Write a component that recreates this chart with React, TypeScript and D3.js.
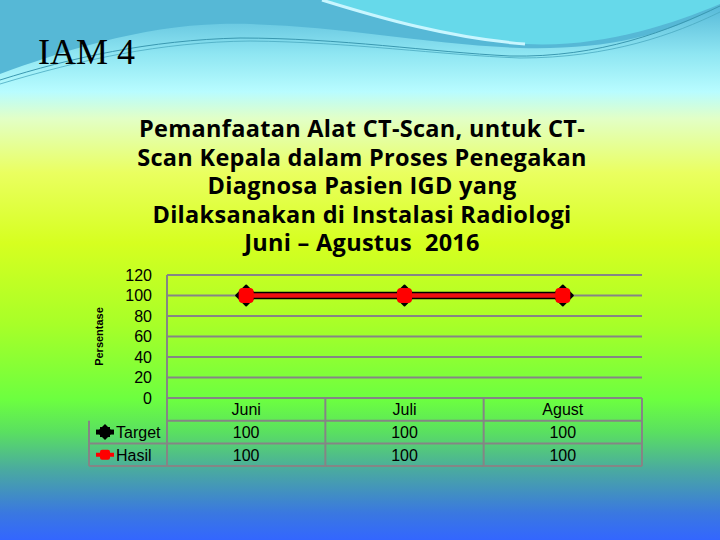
import React from "react";
import * as d3 from "d3";

const categories = ["Juni", "Juli", "Agust"];
const targetValues = [100, 100, 100];
const hasilValues = [100, 100, 100];
const yTicks = [0, 20, 40, 60, 80, 100, 120];
const titleLines = [
  "Pemanfaatan Alat CT-Scan, untuk CT-",
  "Scan Kepala dalam Proses Penegakan",
  "Diagnosa Pasien IGD yang",
  "Dilaksanakan di Instalasi Radiologi",
  "Juni \u2013 Agustus  2016",
];
const seriesNames = ["Target", "Hasil"];

export default function App() {
  const W = 720, H = 540;
  const left = 167, right = 642, top = 275, zeroY = 398;
  const rowH = 22.7;
  const legendLeft = 89;
  const x = d3.scaleBand<string>().domain(categories).range([left, right]).padding(0);
  const y = d3.scaleLinear().domain([0, 120]).range([zeroY, top]);
  const cx = (c: string) => (x(c) as number) + x.bandwidth() / 2;
  const line = d3.line<number>().x((_, i) => cx(categories[i])).y((v) => y(v));
  const grid = "#858585";
  const tableFont = "'Liberation Sans', Arial, sans-serif";
  const diamond = (px: number, py: number, r: number) =>
    `M${px - r},${py} L${px},${py - r} L${px + r},${py} L${px},${py + r} Z`;

  return (
    <svg width={W} height={H} style={{ position: "absolute", left: 0, top: 0 }}>
      <defs>
        <linearGradient id="bg" x1="0" y1="0" x2="0" y2="1">
          <stop offset="0" stopColor="#50b4d6" />
          <stop offset="0.1" stopColor="#8fe6f2" />
          <stop offset="0.17" stopColor="#b8fcff" />
          <stop offset="0.22" stopColor="#e2ffc6" />
          <stop offset="0.32" stopColor="#eaff60" />
          <stop offset="0.45" stopColor="#d6ff20" />
          <stop offset="0.6" stopColor="#a8ff28" />
          <stop offset="0.74" stopColor="#6cff40" />
          <stop offset="0.8" stopColor="#5ae060" />
          <stop offset="0.87" stopColor="#4aaaa0" />
          <stop offset="0.95" stopColor="#3a78e0" />
          <stop offset="1" stopColor="#3366ff" />
        </linearGradient>
      </defs>
      <rect x={0} y={0} width={W} height={H} fill="url(#bg)" />
      {/* decorative waves */}
      <path
        d="M0,0 L720,0 L720,6 C 660,38 600,50 520,48 C 420,44 320,22 220,24 C 140,26 60,52 0,74 Z"
        fill="#56b8d6"
      />
      <path
        d="M322,0 C 380,18 450,38 525,44 C 600,48 670,25 720,4 L720,0 Z"
        fill="#66d9ea"
      />
      <path d="M322,0 C 380,18 450,38 525,44" fill="none" stroke="#c8f6ff" strokeWidth={3} />
      <path
        d="M0,80 C 70,58 150,40 240,38 C 340,38 430,52 510,56 C 600,58 670,30 720,6"
        fill="none"
        stroke="#3a98b0"
        strokeWidth={1}
      />
      <path
        d="M0,84 C 80,60 160,42 250,41 C 350,42 440,55 520,58 C 610,58 675,34 720,12"
        fill="none"
        stroke="#4aaac0"
        strokeWidth={0.8}
      />

      <text x={38} y={64} fontFamily="'Liberation Serif', 'Times New Roman', serif" fontSize={36} fill="#000">
        IAM 4
      </text>

      {titleLines.map((t, i) => (
        <text
          key={i}
          x={362}
          y={137 + i * 28.5}
          textAnchor="middle"
          fontFamily="'Open Sans', Lato, sans-serif"
          fontWeight="bold"
          fontSize={23.5}
          letterSpacing={0.3}
          style={{ whiteSpace: "pre" }}
          fill="#000"
        >
          {t}
        </text>
      ))}

      {/* gridlines */}
      {yTicks.map((t) => (
        <line key={t} x1={left} x2={right} y1={y(t)} y2={y(t)} stroke={grid} strokeWidth={2} />
      ))}
      {yTicks.map((t) => (
        <text
          key={"l" + t}
          x={152}
          y={y(t)}
          dy="0.36em"
          textAnchor="end"
          fontFamily={tableFont}
          fontSize={16}
          fill="#000"
        >
          {t}
        </text>
      ))}
      <text
        transform={`translate(103,${(top + zeroY) / 2}) rotate(-90)`}
        textAnchor="middle"
        fontFamily={tableFont}
        fontWeight="bold"
        fontSize={11}
        fill="#000"
      >
        Persentase
      </text>

      {/* data table */}
      <line x1={left} x2={left} y1={top} y2={zeroY + 3 * rowH} stroke={grid} strokeWidth={2} />
      {[1, 2, 3].map((r) => (
        <line
          key={"r" + r}
          x1={r === 1 ? left : legendLeft}
          x2={right}
          y1={zeroY + r * rowH}
          y2={zeroY + r * rowH}
          stroke={grid}
          strokeWidth={2}
        />
      ))}
      <line x1={legendLeft} x2={legendLeft} y1={zeroY + rowH} y2={zeroY + 3 * rowH} stroke={grid} strokeWidth={2} />
      {categories.map((c) => (
        <line
          key={"v" + c}
          x1={(x(c) as number) + x.bandwidth()}
          x2={(x(c) as number) + x.bandwidth()}
          y1={zeroY}
          y2={zeroY + 3 * rowH}
          stroke={grid}
          strokeWidth={2}
        />
      ))}
      {categories.map((c, i) => (
        <g key={"t" + c} fontFamily={tableFont} fontSize={16} fill="#000" textAnchor="middle">
          <text x={cx(c)} y={zeroY + rowH / 2} dy="0.36em">{c}</text>
          <text x={cx(c)} y={zeroY + rowH * 1.5} dy="0.36em">{targetValues[i]}</text>
          <text x={cx(c)} y={zeroY + rowH * 2.5} dy="0.36em">{hasilValues[i]}</text>
        </g>
      ))}
      {/* legend keys */}
      <line x1={96} x2={114} y1={zeroY + rowH * 1.5} y2={zeroY + rowH * 1.5} stroke="#000" strokeWidth={5} />
      <path d={diamond(105, zeroY + rowH * 1.5, 8)} fill="#000" />
      <rect x={100} y={zeroY + rowH * 1.5 - 5} width={10} height={10} fill="#000" />
      <line x1={96} x2={114} y1={zeroY + rowH * 2.5} y2={zeroY + rowH * 2.5} stroke="#ff0000" strokeWidth={4} />
      <rect x={100} y={zeroY + rowH * 2.5 - 5} width={10} height={10} rx={2} fill="#ff0000" />
      <text x={116} y={zeroY + rowH * 1.5} dy="0.36em" fontFamily={tableFont} fontSize={16}>
        {seriesNames[0]}
      </text>
      <text x={116} y={zeroY + rowH * 2.5} dy="0.36em" fontFamily={tableFont} fontSize={16}>
        {seriesNames[1]}
      </text>

      {/* series */}
      <path d={line(targetValues) || ""} fill="none" stroke="#000" strokeWidth={7.5} />
      {targetValues.map((v, i) => (
        <path key={"td" + i} d={diamond(cx(categories[i]), y(v), 10)} fill="#000" stroke="#000" strokeWidth={2} strokeLinejoin="round" />
      ))}
      <path d={line(hasilValues) || ""} fill="none" stroke="#ee1111" strokeWidth={4.5} />
      {hasilValues.map((v, i) => (
        <rect
          key={"hs" + i}
          x={cx(categories[i]) - 7.5}
          y={y(v) - 7.5}
          width={15}
          height={15}
          rx={4}
          fill="#ff0000"
        />
      ))}
    </svg>
  );
}
